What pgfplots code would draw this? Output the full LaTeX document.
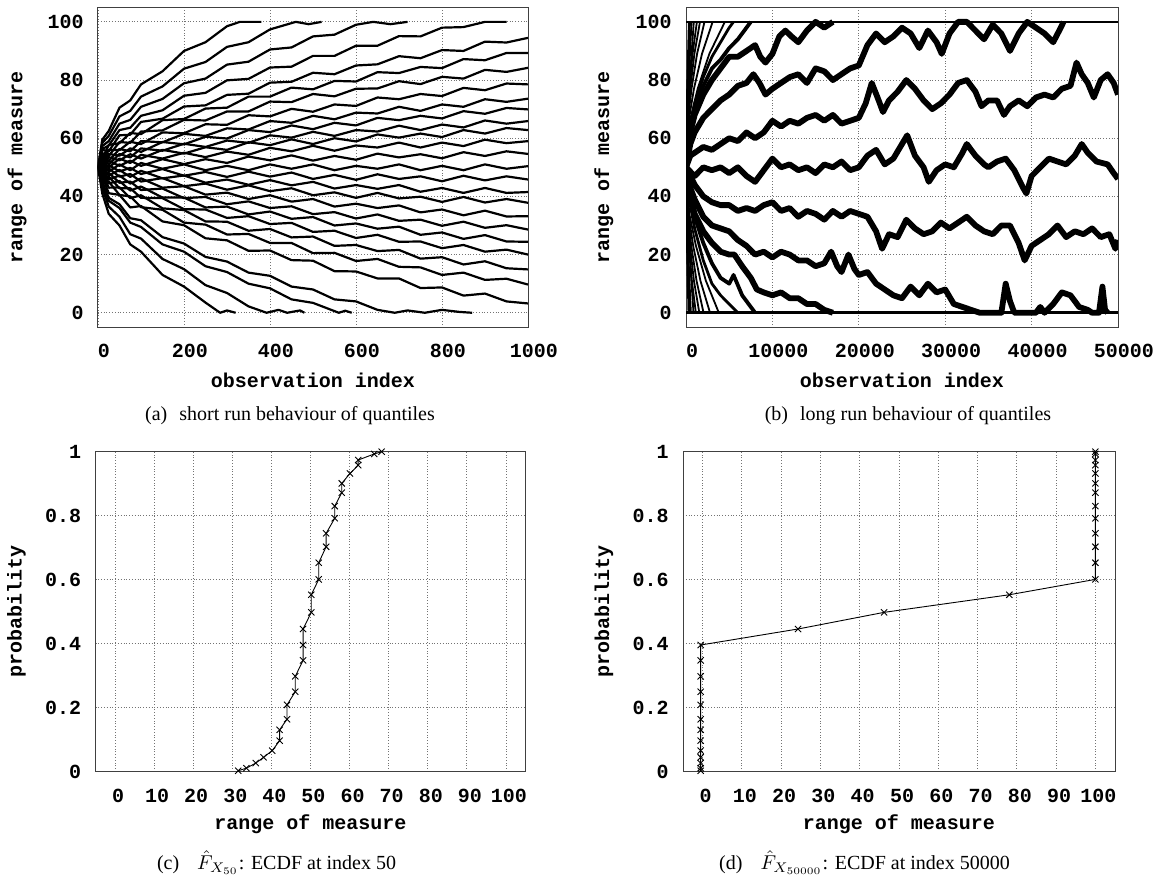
\documentclass[border=0pt]{standalone}
\usepackage{fontspec}
\setmainfont{Liberation Serif}
\setmonofont{Liberation Mono}
\usepackage{pgfplots}
\pgfplotsset{compat=1.18}
\usepackage{pgfplotstable}

\newcommand\tfont{\ttfamily\bfseries\fontsize{10}{12}\selectfont}
\newcommand\cfont{\rmfamily\fontsize{10}{12}\selectfont}

\pgfplotsset{
  gp/.style={
    scale only axis, anchor=north west,
    height=160pt,
    axis line style={black!75, line width=0.5pt},
    grid=major,
    grid style={densely dotted, black!55, line width=0.45pt},
    major tick length=0pt,
    tick label style={font=\tfont},
    /pgf/number format/assume math mode=true,
    /pgf/number format/1000 sep={},
    scaled ticks=false,
    yticklabel style={xshift=-3.7pt},
    label style={font=\tfont},
    xlabel style={at={(axis description cs:0.5,-0.1656)}, anchor=center},
  },
  qa/.style={black, line width=1.1pt, line join=round},
  qb/.style={black, line width=2.9pt, line join=round},
  qs/.style={black, line width=0.9pt, line join=round},
  ec/.style={black, line width=0.45pt, mark=x, mark size=2.2pt, mark options={line width=0.45pt, solid}},
}

\pgfplotstableread{
n l1 l2 l3 l4 l5 l6 l7 l8 l9 l10 l11 l12 l13 l14 l15 l16 l17 l18 l19 l20 l21
0 50 50 50 50 50 50 50 50 50 50 50 50 50 50 50 50 50 50 50 50 50
10 46.8 45 48 46 48.9 46.9 49.8 47.8 50.6 48.6 51.5 49.5 52.4 50.3 53.1 51 53.9 51.9 54.9 52.9 56
25 41.1 45.1 43 46.8 44.5 48.1 45.8 49.6 47.2 50.8 48.5 52.2 49.9 53.5 51 54.6 52.2 56 53.9 57.7 55.5
50 40.5 40.5 43.1 42.8 45.3 44.7 47.2 46.8 49.1 48.6 51 50.5 53 52.4 54.6 54 56.3 55.9 58.7 58.3 61
75 36.2 40 39.4 42.8 42 45.1 44.4 47.7 46.7 49.8 49 52.3 51.5 54.5 53.4 56.5 55.5 58.8 58.4 61.8 61.2
100 36.7 36.3 40.4 39.5 43.4 42.2 46.2 45.1 48.8 47.7 51.5 50.5 54.3 53 56.5 55.3 59 58 62.3 61.4 65.6
150 31.4 35.4 35.9 39.4 39.6 42.7 43 46.3 46.2 49.4 49.5 52.8 53 56 55.7 58.7 58.6 62 62.7 66.2 66.7
200 30.1 31 35.3 35.6 39.6 39.4 43.5 43.5 47.2 47.1 51 51.1 55 54.7 58.1 57.9 61.5 61.7 66.3 66.6 70.9
250 25.6 30.3 31.4 35.5 36.2 39.8 40.6 44.4 44.7 48.4 49 52.8 53.5 56.9 57 60.5 60.8 64.8 66.1 70.2 71.3
300 24.9 26.9 31.3 32.6 36.5 37.3 41.3 42.3 45.8 46.7 50.5 51.5 55.4 56 59.2 59.9 63.4 64.6 69.2 70.5 74.9
350 21.3 27.1 28.2 33.2 33.8 38.3 39.1 43.8 44 48.5 49 53.7 54.3 58.6 58.4 62.8 63 67.9 69.2 74.3 75.3
400 21.4 24 28.8 30.5 34.8 36 40.4 41.8 45.6 46.8 51 52.4 56.7 57.6 61 62.1 65.9 67.5 72.6 74.3 79.1
450 18.1 24 25.9 30.9 32.3 36.6 38.2 42.8 43.8 48.2 49.5 54.1 55.5 59.6 60.2 64.4 65.3 70.1 72.4 77.4 79.4
500 17.9 20.5 26.2 27.8 32.9 33.9 39.1 40.4 45 46 51 52.3 57.4 58 62.2 63.1 67.7 69.1 75.2 76.8 82.5
550 14.3 20.6 23 28.2 30 34.6 36.5 41.4 42.7 47.4 49 53.9 55.7 60 60.8 65.3 66.5 71.6 74.4 79.7 82
600 14.2 17.8 23.3 25.7 30.7 32.4 37.5 39.5 43.9 45.7 50.5 52.6 57.5 58.9 62.8 64.4 68.8 71.1 77 79.5 85
650 11.8 18.5 21.2 26.8 28.9 33.8 36 41.2 42.6 47.6 49.5 54.7 56.8 61.3 62.3 67 68.5 74 77.1 82.7 85.4
700 11.8 15.8 21.6 24.4 29.6 31.6 36.9 39.3 43.9 46 51 53.4 58.5 60.2 64.3 66.2 70.8 73.4 79.6 82.4 88.2
750 8.5 15.6 18.6 24.5 26.8 32 34.5 39.9 41.6 46.9 49 54.5 56.8 61.6 62.8 67.7 69.4 75.2 78.6 84.5 87.5
800 8.7 13 19.1 22.2 27.6 29.9 35.5 38.1 42.9 45.2 50.5 53.1 58.5 60.4 64.7 66.8 71.6 74.5 81.1 84.1 90.3
850 5.9 13.8 16.6 23.3 25.4 31.3 33.5 39.8 41.2 47.1 49 55.2 57.3 62.8 63.7 69.3 70.8 77.3 80.5 87.2 90
900 6.6 11.3 17.7 21 26.7 29.2 35.1 37.9 42.9 45.5 51 53.9 59.5 61.6 66.1 68.4 73.4 76.5 83.5 86.8 93.2
950 3.9 11.7 15.3 21.7 24.5 30.1 33.1 39.1 41.2 46.9 49.5 55.5 58.3 63.5 65 70.4 72.5 78.8 82.8 89.3 92.9
1000 3.2 9.7 14.9 20 24.4 28.6 33.2 37.8 41.5 45.8 50.4 54.6 59 62.8 65.9 69.9 73.6 78.5 84.2 89.3 94.5
}\tabA

\begin{document}
\begin{tikzpicture}
\path[use as bounding box] (0,0) rectangle (578.5pt,-437.5pt);

% ---------------- (a) ----------------
\begin{axis}[gp, name=A, at={(49pt,-3.65pt)}, width=215pt,
  xmin=0, xmax=1000, ymin=-5, ymax=105,
  xtick={0,200,400,600,800,1000}, ytick={0,20,40,60,80,100},
  xticklabel style={yshift=-5pt, xshift=3pt},
  xlabel={observation index}, ylabel={range of measure},
  ylabel style={at={(axis description cs:-0.1884,0.5)}, anchor=center}]
\pgfplotsinvokeforeach{1,2,3,4,5,6,7,8,9,10,11,12,13,14,15,16,17,18,19,20,21}{
  \addplot[qa] table[x=n, y=l#1] {\tabA};
}
\addplot[qa] coordinates {(0,50)(10,41)(25,34)(50,30)(75,23.5)(100,21)(150,13)(200,9)(250,3.5)(284,0)(300,0.8)(320,0)};
\addplot[qa] coordinates {(0,50)(10,43)(25,36.5)(50,33)(75,27)(100,25.5)(150,18.5)(200,15)(250,9.5)(300,6.8)(350,2.2)(392,0)(420,1)(440,0)(470,0.8)(480,0)};
\addplot[qa] coordinates {(0,50)(10,44)(25,38.5)(50,36)(75,31)(100,29.5)(150,23.5)(200,21)(250,16)(300,14)(350,10)(400,8.4)(450,4.6)(500,3.4)(560,0)(575,0.7)(590,0)};
\addplot[qa] coordinates {(0,50)(10,45)(25,39.5)(50,37.3)(75,32.5)(100,31.8)(150,26)(200,23.8)(250,19.2)(300,17.6)(350,13.8)(400,12.7)(450,9)(500,8)(550,4.6)(600,3.9)(650,1)(690,0)(720,0.8)(760,0)(800,1)(840,0.3)(870,0)};
\addplot[qa] coordinates {(0,50)(10,59.5)(25,62.5)(50,70.5)(75,73)(100,78.5)(150,83)(200,90)(250,93)(300,98.5)(330,100)(380,100)};
\addplot[qa] coordinates {(0,50)(10,58.4)(25,60.8)(50,67.5)(75,69.4)(100,74.3)(150,77.8)(200,83.9)(250,86.2)(300,91.4)(350,93)(400,97.4)(460,100)(490,99.2)(520,100)};
\addplot[qa] coordinates {(0,50)(10,57.3)(25,59)(50,65)(75,66.3)(100,70.8)(150,73.5)(200,78.9)(250,80.5)(300,85.3)(350,86.3)(400,90.5)(450,91.2)(500,95)(550,95.6)(600,99)(640,100)(680,99.2)(720,100)};
\addplot[qa] coordinates {(0,50)(10,56.3)(25,57.5)(50,62.8)(75,63.6)(100,67.7)(150,69.6)(200,74.6)(250,75.6)(300,79.9)(350,80.4)(400,84.3)(450,84.6)(500,88.3)(550,88.3)(600,91.8)(650,91.8)(700,95.1)(750,95)(800,98)(850,98.2)(900,100)(950,100)};
\end{axis}
\node[font=\cfont] at ([xshift=-11.5pt,yshift=-44pt]A.south) {(a)\hspace{0.6em}short run behaviour of quantiles};

% ---------------- (b) ----------------
\begin{axis}[gp, name=B, at={(343pt,-3.65pt)}, width=216pt,
  xmin=0, xmax=50000, ymin=-5, ymax=105,
  xtick={0,10000,20000,30000,40000,50000}, ytick={0,20,40,60,80,100},
  xticklabel style={yshift=-5pt, xshift=3pt},
  xlabel={observation index}, ylabel={range of measure},
  ylabel style={at={(axis description cs:-0.19,0.5)}, anchor=center}]
\addplot[black, line width=1.3pt] coordinates {(0,0)(50000,0)};
\addplot[black, line width=1.3pt] coordinates {(0,100)(50000,100)};
% median
\addplot[qb] coordinates {(0,50)(1000,47)(2000,50)(3000,49)(4000,50)(5000,48)(6000,50)(7000,47)(8000,45)(9000,49)(10000,53)(11000,50)(12000,51)(13000,49)(14000,50)(15000,48)(16000,51)(17000,50)(18000,52)(19000,49)(20000,50)(21000,54)(22000,56)(23000,51)(24000,53)(25000,58)(25600,61)(26500,54)(27500,50)(28100,45)(29000,49)(30000,51)(31000,50)(32000,55)(32500,58)(33500,54)(34500,51)(35000,50)(36000,52)(37000,53)(38000,49)(39000,43)(39400,41)(40000,47)(41000,50)(42000,53)(43000,52)(44000,51)(45000,54)(45800,58)(46500,55)(47500,52)(48800,51)(49500,48)(50000,46)};
% L1
\addplot[qb] coordinates {(0,50)(1000,44)(2000,40)(3000,38)(4000,37)(5000,37)(6000,35)(7000,36)(8000,35)(9000,37)(10000,38)(11000,35)(12000,36)(13000,33)(14000,35)(15000,34)(16000,32)(17000,35)(18000,33)(19000,35)(20000,34)(21000,33)(22000,28)(22700,22)(23500,27)(24500,26)(25500,32)(26500,29)(27500,27)(28500,28)(29500,31)(30500,29)(31500,31)(32500,33)(33500,30)(34500,28)(35500,27)(36500,30)(37500,30)(38500,24)(39200,18)(40000,23)(41000,25)(42000,27)(43000,30)(44000,26)(45000,28)(46000,27)(47000,29)(48000,26)(49000,27)(49700,22)(50000,25)};
% U1
\addplot[qb] coordinates {(0,50)(500,54)(1000,55)(2000,57)(3000,56)(4000,58)(5000,60)(6000,59)(7000,62)(8000,60)(9000,62)(10000,66)(11000,64)(12000,66)(13000,65)(14000,67)(15000,68)(16000,66)(17000,68)(18000,65)(19000,66)(20000,67)(20800,72)(21500,79)(22300,73)(22800,69)(23500,73)(24500,76)(25500,80)(26500,77)(27500,73)(28500,70)(29500,72)(30500,75)(31500,79)(32500,80)(33500,76)(34200,71)(35000,73)(36000,73)(36800,68)(37500,71)(38500,73)(39500,71)(40500,74)(41500,75)(42500,74)(43500,77)(44500,78)(45200,86)(45800,82)(46500,79)(47200,74)(48000,80)(48800,82)(49500,79)(50000,75)};
% U2
\addplot[qb] coordinates {(0,50)(500,58)(1000,62)(2000,67)(3000,70)(4000,73)(5000,75)(6000,78)(7000,79)(7800,82)(8500,79)(9200,75)(10000,77)(11000,79)(12000,81)(13000,82)(14000,79)(15000,84)(16000,83)(17000,80)(18000,82)(19000,84)(20000,85)(21000,92)(22000,96)(23000,93)(24000,95)(25000,98)(26000,96)(27000,91)(28000,97)(29000,93)(29600,89)(30500,96)(31500,100)(32500,100)(33500,97)(34500,94)(35500,99)(36500,96)(37500,90)(38500,96)(39500,100)(40500,98)(41500,96)(42500,93)(43200,97)(43700,100)};
% L2
\addplot[qb] coordinates {(0,50)(500,43)(1000,39)(2000,33)(3000,30)(4000,29)(5000,28)(6000,25)(7000,23)(8000,20)(9000,21)(10000,19)(11000,21)(12000,20)(13000,18)(14000,18)(15000,16)(16000,17)(16800,21)(17500,16)(18000,14)(18800,20)(19500,15)(20000,13)(21000,14)(22000,10)(23000,8)(24000,6)(25000,5)(26000,9)(27000,6)(28000,10)(29000,7)(30000,8)(31000,3)(32000,2)(33000,1)(34000,0)(36500,0)(37000,10)(37500,4)(38000,0)(40500,0)(41000,2)(41500,0)(42500,3)(43500,7)(44500,6)(45500,2)(46500,1)(47000,0)(47800,0)(48200,9)(48500,1)(48800,0)};
% L3
\addplot[qb] coordinates {(0,50)(500,40)(1000,34)(2000,28)(3000,24)(4000,21)(5000,20)(5600,20)(6500,16)(7500,12)(8200,8)(9000,7)(10000,6)(11000,7)(12000,5)(13000,5)(14000,3)(15000,3)(16000,1)(17000,0)};
% U3
\addplot[qb] coordinates {(0,50)(500,62)(1000,68)(2000,75)(3000,80)(4000,84)(5000,88)(6000,88)(7000,90)(8000,92)(8600,88)(9200,86)(10000,89)(10800,95)(11500,97)(12200,95)(13000,93)(14000,97)(15000,100)(16000,98)(17000,100)};
% medium lines
\addplot[qb, line width=1.9pt] coordinates {(0,50)(300,60)(1000,70)(2000,78)(3000,84)(4000,87)(5000,91)(6000,94)(7000,98)(7500,100)};
\addplot[qb, line width=1.9pt] coordinates {(0,50)(300,42)(1000,33)(2000,24)(3000,17)(4000,12)(5000,10)(5500,13)(6500,6)(7500,2)(8000,0)};
\addplot[qs, line width=1.4pt] coordinates {(0,50)(300,40)(1000,29)(2000,18)(3000,10)(4000,6)(5000,3)(6000,0)};
\addplot[qs, line width=1.4pt] coordinates {(0,50)(300,61)(1000,72)(2000,81)(3000,88)(4000,93)(5000,98)(5500,100)};
% steep lines
\addplot[qs] coordinates {(0,50)(380,34)(1150,23)(2300,11)(3800,0)};
\addplot[qs] coordinates {(0,50)(450,66)(1350,77)(2700,89)(4500,100)};
\addplot[qs] coordinates {(0,50)(280,34)(830,23)(1670,11)(2780,0)};
\addplot[qs] coordinates {(0,50)(310,66)(920,77)(1850,89)(3080,100)};
\addplot[qs] coordinates {(0,50)(200,34)(610,23)(1220,11)(2030,0)};
\addplot[qs] coordinates {(0,50)(210,66)(640,77)(1280,89)(2140,100)};
\addplot[qs] coordinates {(0,50)(150,34)(460,23)(920,11)(1540,0)};
\addplot[qs] coordinates {(0,50)(160,66)(490,77)(970,89)(1620,100)};
\addplot[qs] coordinates {(0,50)(115,34)(340,23)(680,11)(1140,0)};
\addplot[qs] coordinates {(0,50)(125,66)(380,77)(760,89)(1260,100)};
\addplot[qs] coordinates {(0,50)(260,27)(870,0)};
\addplot[qs] coordinates {(0,50)(270,73)(900,100)};
\addplot[qs] coordinates {(0,50)(170,27)(560,0)};
\addplot[qs] coordinates {(0,50)(190,73)(640,100)};
\addplot[qs] coordinates {(0,50)(120,27)(390,0)};
\addplot[qs] coordinates {(0,50)(140,73)(460,100)};
\addplot[qs] coordinates {(0,50)(85,27)(284,0)};
\addplot[qs] coordinates {(0,50)(100,73)(330,100)};
\end{axis}
\node[font=\cfont] at ([xshift=3pt,yshift=-44pt]B.south) {(b)\hspace{0.6em}long run behaviour of quantiles};

% ---------------- (c) ----------------
\begin{axis}[gp, name=C, at={(47.75pt,-225.85pt)}, width=215pt,
  xmin=-5, xmax=105, ymin=0, ymax=1,
  xtick={0,10,20,30,40,50,60,70,80,90,100}, ytick={0,0.2,0.4,0.6,0.8,1},
  xticklabel style={yshift=-5pt, xshift=1.5pt},
  xlabel={range of measure}, ylabel={probability},
  ylabel style={at={(axis description cs:-0.1837,0.5)}, anchor=center}]
\addplot[ec] coordinates {(31.5,0.003)(33.6,0.011)(36,0.027)(38,0.045)(40.2,0.066)(42.1,0.097)(42.1,0.131)(44,0.164)(44,0.209)(46.1,0.25)(46.1,0.298)(48.1,0.348)(48.1,0.396)(48.1,0.446)(50.2,0.498)(50.2,0.553)(52.1,0.601)(52.1,0.653)(54,0.703)(54,0.745)(56.2,0.792)(56.2,0.83)(58,0.872)(58,0.901)(60.1,0.932)(62.2,0.958)(62.2,0.974)(66.3,0.993)(68.2,1.0)};
\end{axis}
\node[font=\cfont, inner sep=1pt] at ([xshift=-17pt,yshift=-45.5pt]C.south) {(c)\hspace{0.9em}$\hat{F}_{X_{50}}$: ECDF at index 50};

% ---------------- (d) ----------------
\begin{axis}[gp, name=D, at={(341.5pt,-225.85pt)}, width=216pt,
  xmin=-5, xmax=105, ymin=0, ymax=1,
  xtick={0,10,20,30,40,50,60,70,80,90,100}, ytick={0,0.2,0.4,0.6,0.8,1},
  xticklabel style={yshift=-5pt, xshift=1.5pt},
  xlabel={range of measure}, ylabel={probability},
  ylabel style={at={(axis description cs:-0.1829,0.5)}, anchor=center}]
\addplot[ec] coordinates {(-0.5,0.003)(-0.5,0.011)(-0.5,0.027)(-0.5,0.045)(-0.5,0.066)(-0.5,0.097)(-0.5,0.131)(-0.5,0.164)(-0.5,0.209)(-0.5,0.25)(-0.5,0.298)(-0.5,0.348)(-0.5,0.396)(24.3,0.446)(46.2,0.498)(78.1,0.553)(100,0.601)(100,0.653)(100,0.703)(100,0.745)(100,0.792)(100,0.83)(100,0.872)(100,0.901)(100,0.932)(100,0.958)(100,0.974)(100,0.993)(100,1.0)};
\end{axis}
\node[font=\cfont, inner sep=1pt] at ([xshift=-17.25pt,yshift=-45.5pt]D.south) {(d)\hspace{0.9em}$\hat{F}_{X_{50000}}$: ECDF at index 50000};
\end{tikzpicture}
\end{document}
